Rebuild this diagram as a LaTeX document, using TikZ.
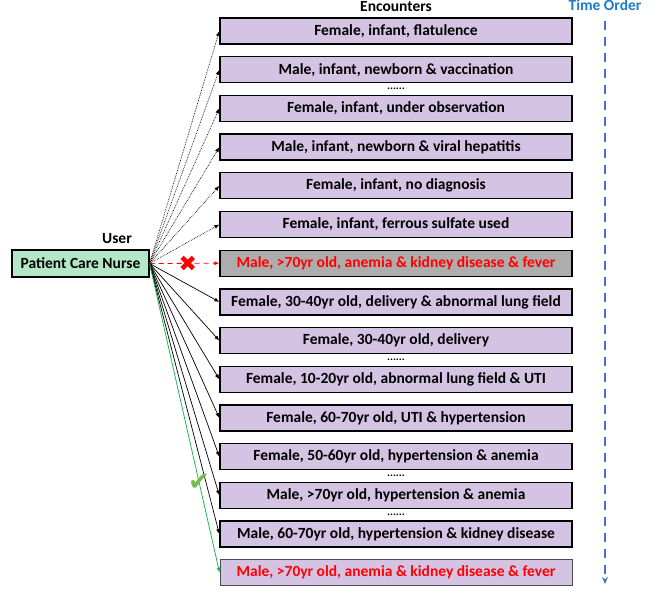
\documentclass[tikz,border=0pt]{standalone}
\usepackage{fontspec}
\setmainfont{Carlito}
\newfontfamily\symfont{DejaVu Sans}
\usepackage{tikz}
\usetikzlibrary{arrows.meta, positioning, calc}

\definecolor{encfill}{HTML}{D5C3E3}
\definecolor{userfill}{HTML}{B3E7C8}
\definecolor{pickgreen}{HTML}{1DB954}
\definecolor{checkgreen}{HTML}{70C04A}
\definecolor{timeblue}{HTML}{1F7BC8}
\definecolor{lineblue}{HTML}{4472C4}

\begin{document}
\begin{tikzpicture}[
        x=1pt, y=-1pt,
        font=\fontsize{15.5}{17}\selectfont\bfseries,
        enc/.style = {rectangle, draw=black, fill=encfill, line width=1.3pt, minimum width=352pt, minimum height=26pt, inner sep=0pt},
        enc_hit/.style = {enc, fill=black!32, text=red},
        enc_pick/.style = {enc, draw=black!70, line width=0.9pt, text=red},
        user/.style = {rectangle, draw=black, fill=userfill, line width=1.1pt, minimum width=137pt, minimum height=27pt, inner sep=0pt},
        gap_dots/.style = {font=\fontsize{11}{11}\selectfont\bfseries, inner sep=0pt},
        mark_sym/.style = {font=\symfont\fontsize{22}{22}\selectfont\bfseries, inner sep=0pt},
        tip/.style = {-{Latex[length=5pt,width=4pt]}},
        past/.style = {tip, densely dotted, line width=0.7pt},
        later/.style = {tip, line width=0.7pt},
        missed/.style = {tip, dash pattern=on 5pt off 4pt, red, thick},
        chosen/.style = {tip, pickgreen, line width=0.8pt}
    ]
    \useasboundingbox (0,0) rectangle (665,590);

    % Encounters
    \node [anchor=north, inner sep=0pt] (enc_title) at (396,1) {Encounters};
    \node [enc] (e1) at (396,31) {Female, infant, flatulence};
    \node [enc, below=11.4pt of e1] (e2) {Male, infant, newborn \& vaccination};
    \node [enc, below=11.4pt of e2] (e3) {Female, infant, under observation};
    \node [enc, below=11.4pt of e3] (e4) {Male, infant, newborn \& viral hepatitis};
    \node [enc, below=11.4pt of e4] (e5) {Female, infant, no diagnosis};
    \node [enc, below=11.4pt of e5] (e6) {Female, infant, ferrous sulfate used};
    \node [enc_hit, below=11.4pt of e6] (e7) {Male, >70yr old, anemia \& kidney disease \& fever};
    \node [enc, below=11.4pt of e7] (e8) {Female, 30-40yr old, delivery \& abnormal lung field};
    \node [enc, below=11.4pt of e8] (e9) {Female, 30-40yr old, delivery};
    \node [enc, below=11.4pt of e9] (e10) {Female, 10-20yr old, abnormal lung field \& UTI};
    \node [enc, below=11.4pt of e10] (e11) {Female, 60-70yr old, UTI \& hypertension};
    \node [enc, below=11.4pt of e11] (e12) {Female, 50-60yr old, hypertension \& anemia};
    \node [enc, below=11.4pt of e12] (e13) {Male, >70yr old, hypertension \& anemia};
    \node [enc, below=11.4pt of e13] (e14) {Male, 60-70yr old, hypertension \& kidney disease};
    \node [enc_pick, below=11.4pt of e14] (e15) {Male, >70yr old, anemia \& kidney disease \& fever};

    % Skipped encounters
    \node [gap_dots] at ($(e2.south)!0.5!(e3.north)$) {......};
    \node [gap_dots] at ($(e9.south)!0.5!(e10.north)$) {......};
    \node [gap_dots] at ($(e12.south)!0.5!(e13.north)$) {......};
    \node [gap_dots] at ($(e13.south)!0.5!(e14.north)$) {......};

    % User
    \node [user] (nurse) at (80.5,263.5) {Patient Care Nurse};
    \node [anchor=south, inner sep=0pt] (user_title) at (117,244) {User};

    % Connections
    \foreach \i in {1,...,6} \draw [past] (nurse.east) -- (e\i.west);
    \draw [missed] (nurse.east) -- (e7.west) node[pos=0.55, mark_sym, text=red] (miss_mark) {\char"2716};
    \foreach \i in {8,...,14} \draw [later] (nurse.east) -- (e\i.west);
    \draw [chosen] (nurse.east) -- (e15.west);
    \node [mark_sym, text=checkgreen, font=\symfont\fontsize{26}{26}\selectfont] (pick_mark) at (199,482) {\char"2714};

    % Time order
    \node [text=timeblue, anchor=north, inner sep=0pt] (time_title) at (605,-1) {Time Order};
    \coordinate (t_top) at (605,21);
    \coordinate (t_end) at (605,584);
    \draw [lineblue, line width=1.5pt, dash pattern=on 9pt off 7pt, -{Stealth[length=7pt,width=6pt]}] (t_top) -- (t_end);
\end{tikzpicture}
\end{document}
